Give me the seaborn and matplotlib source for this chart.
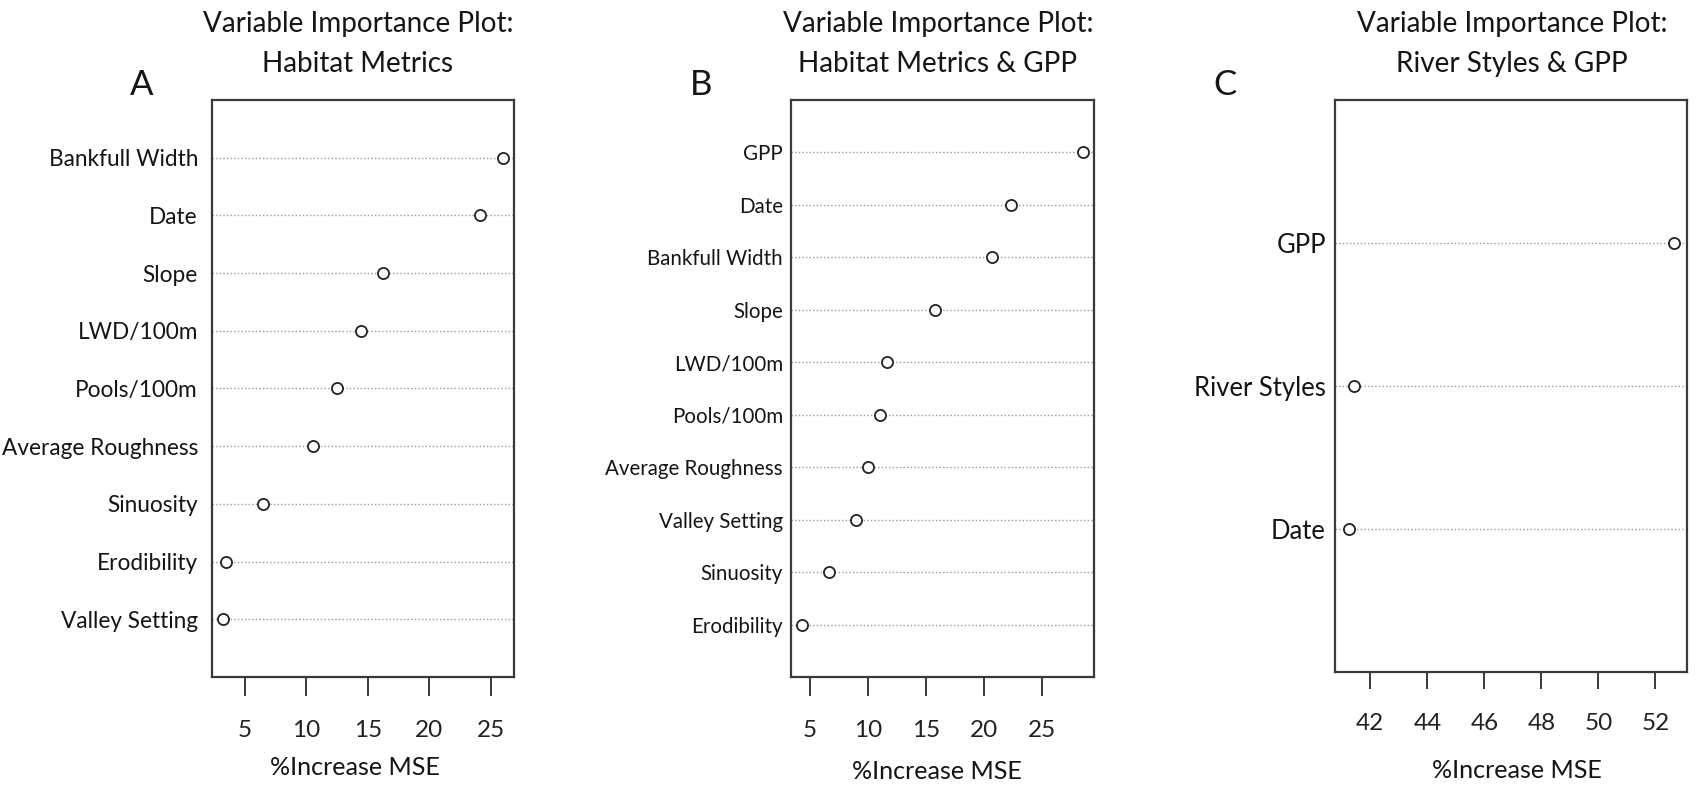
import matplotlib
matplotlib.use("Agg")
import matplotlib.pyplot as plt
import seaborn as sns
import pandas as pd

# ---- data (top-to-bottom order as in the chart) ----
a_labels = ["Bankfull Width", "Date", "Slope", "LWD/100m", "Pools/100m",
            "Average Roughness", "Sinuosity", "Erodibility", "Valley Setting"]
a_values = [26.0, 24.1, 16.25, 14.45, 12.5, 10.5, 6.46, 3.46, 3.24]

b_labels = ["GPP", "Date", "Bankfull Width", "Slope", "LWD/100m", "Pools/100m",
            "Average Roughness", "Valley Setting", "Sinuosity", "Erodibility"]
b_values = [28.52, 22.3, 20.7, 15.77, 11.63, 11.06, 10.05, 9.02, 6.63, 4.35]

c_labels = ["GPP", "River Styles", "Date"]
c_values = [52.64, 41.44, 41.25]

a_ticks = [5, 10, 15, 20, 25]
b_ticks = [5, 10, 15, 20, 25]
c_ticks = [42, 44, 46, 48, 50, 52]

title_line1 = "Variable Importance Plot:"
title_line2 = ["Habitat Metrics", "Habitat Metrics & GPP", "River Styles & GPP"]
letters = ["A", "B", "C"]
xlabel = "%Increase MSE"

sns.set_style("white")
FAM = ["Lato", "DejaVu Sans"]
plt.rcParams["font.family"] = FAM

W, H = 1706, 786
fig = plt.figure(figsize=(W / 100, H / 100), dpi=100)
renderer = fig.canvas.get_renderer()


def fit_fs(text, target_px):
    t = fig.text(0, 0, text, fontsize=10)
    w = t.get_window_extent(renderer).width
    t.remove()
    return 10 * target_px / w


def cap_fs(cap_px):
    # Lato cap height ~0.7165 em; convert px -> pt at 100 dpi
    return cap_px / 0.7165 * 0.72


def px_axes(l, t, r, b):
    return fig.add_axes([l / W, 1 - b / H, (r - l) / W, (b - t) / H])


panels = [
    dict(labels=a_labels, values=a_values, ticks=a_ticks, box=(212, 100, 514, 677),
         xlim=(2.32, 26.87), fit=("Average Roughness", 196), lab_pad=14,
         letter_x=142, title_x=358, xl_x=355, xl_base=775, tick_len=19, tick_top=720),
    dict(labels=b_labels, values=b_values, ticks=b_ticks, box=(791, 100, 1094, 677),
         xlim=(3.4, 29.47), fit=("Average Roughness", 178), lab_pad=8,
         letter_x=701, title_x=938, xl_x=937, xl_base=779, tick_len=19, tick_top=720),
    dict(labels=c_labels, values=c_values, ticks=c_ticks, box=(1335, 100, 1687, 672),
         xlim=(40.76, 53.11), fit=("River Styles", 132), lab_pad=9,
         letter_x=1225, title_x=1512, xl_x=1517, xl_base=778, tick_len=17, tick_top=713),
]

title_fs = cap_fs(20.0)
xlab_fs = cap_fs(18.0)
tick_fs = 17.5
letter_fs = 25

spine_col = "#3a3a3a"
txt_col = "#151515"
px2pt = 72 / 100

for i, p in enumerate(panels):
    ax = px_axes(*p["box"])
    df = pd.DataFrame({"var": p["labels"], "val": p["values"]})
    sns.stripplot(data=df, x="val", y="var", order=p["labels"], orient="h",
                  jitter=False, size=8, color="white", edgecolor="#222222",
                  linewidth=1.3, ax=ax, zorder=3)
    n = len(p["labels"])
    ax.set_ylim(n, -1)
    ax.set_xlim(*p["xlim"])
    ax.set_xticks(p["ticks"])
    ax.set_xticklabels([str(t) for t in p["ticks"]], fontsize=tick_fs, color="#222222")
    ax.set_yticks(range(n))
    lab_fs = fit_fs(*p["fit"])
    ax.set_yticklabels(p["labels"], fontsize=lab_fs, color=txt_col)
    ax.yaxis.grid(True, linestyle=(0, (1, 1.6)), color="#9a9a9a", linewidth=1.0)
    ax.xaxis.grid(False)
    ax.set_axisbelow(True)
    ax.tick_params(axis="y", length=0, pad=p["lab_pad"] * px2pt)
    axis_bottom = p["box"][3]
    tick_pad = p["tick_top"] - axis_bottom - p["tick_len"]
    ax.tick_params(axis="x", direction="out", length=p["tick_len"] * px2pt, width=1.4,
                   color=spine_col, pad=tick_pad * px2pt, bottom=True)
    for s in ax.spines.values():
        s.set_visible(True)
        s.set_color(spine_col)
        s.set_linewidth(1.6)
    ax.set_xlabel("")
    ax.set_ylabel("")
    # titles (two lines), panel letter, x label
    fig.text(p["title_x"] / W, 1 - 32 / H, title_line1, fontsize=title_fs,
             ha="center", va="baseline", color=txt_col)
    fig.text(p["title_x"] / W, 1 - 72 / H, title_line2[i], fontsize=title_fs,
             ha="center", va="baseline", color=txt_col)
    fig.text(p["letter_x"] / W, 1 - 95 / H, letters[i], fontsize=letter_fs,
             ha="center", va="baseline", color=txt_col)
    fig.text(p["xl_x"] / W, 1 - p["xl_base"] / H, xlabel, fontsize=xlab_fs,
             ha="center", va="baseline", color=txt_col)

fig.savefig("out.png", dpi=100, facecolor="white")
